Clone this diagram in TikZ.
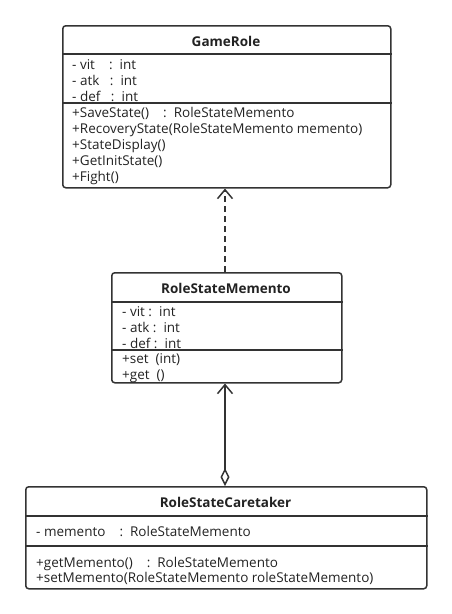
\documentclass[tikz,border=0pt]{standalone}
\usepackage{fontspec}
\setmainfont{Open Sans}
\usetikzlibrary{arrows.meta}

\definecolor{umlline}{HTML}{333333}
\definecolor{umltext}{HTML}{222222}

\begin{document}
\begin{tikzpicture}[x=1pt,y=-1pt]
    \tikzset{
        classframe/.style={draw=umlline,line width=1.5pt,rounded corners=3pt,anchor=north west,inner sep=0pt},
        divider/.style={draw=umlline,line width=1.5pt},
        classtitle/.style={font=\fontsize{13.5}{15}\selectfont\bfseries,text=umltext,anchor=base,inner sep=0pt},
        member/.style={font=\fontsize{13.5}{15}\selectfont,text=umltext,anchor=base west,inner sep=0pt},
        dependency/.style={draw=umlline,line width=1.5pt,dash pattern=on 6pt off 4pt,-{Straight Barb[length=9pt,width=15pt]}},
        aggregation/.style={draw=umlline,line width=1.5pt,{Diamond[open,length=18pt,width=9pt]}-{Straight Barb[length=9pt,width=15pt]}}
    }
    \useasboundingbox (0,0) rectangle (451,614);

    % GameRole
    \node[classframe,minimum width=328pt,minimum height=162pt] (role) at (62,25) {};
    \draw[divider] (role.west |- 0,54) -- (role.east |- 0,54);
    \draw[divider] (role.west |- 0,103) -- (role.east |- 0,103);
    \node[classtitle] (role-title) at (226,46) {GameRole};
    \foreach \txt [count=\i] in {{- vit~~~~:~~int},{- atk~~~:~~int},{- def~~~:~~int}}
        \node[member] (role-a\i) at (72,{53+16*\i}) {\txt};
    \foreach \txt [count=\i] in {{+SaveState()~~~~:~~RoleStateMemento},{+RecoveryState(RoleStateMemento memento)},
            {+StateDisplay()},{+GetInitState()},{+Fight()}}
        \node[member] (role-m\i) at (72,{101+16*\i}) {\txt};

    % RoleStateMemento
    \node[classframe,minimum width=230pt,minimum height=110pt] (memento) at (111,272) {};
    \draw[divider] (memento.west |- 0,302) -- (memento.east |- 0,302);
    \draw[divider] (memento.west |- 0,350) -- (memento.east |- 0,350);
    \node[classtitle] (memento-title) at (226,293) {RoleStateMemento};
    \foreach \txt [count=\i] in {{- vit~:~~int},{- atk~:~~int},{- def~:~~int}}
        \node[member] (memento-a\i) at (122,{300+16*\i}) {\txt};
    \foreach \txt [count=\i] in {{+set~~(int)},{+get~~()}}
        \node[member] (memento-m\i) at (122,{348+15.5*\i}) {\txt};

    % RoleStateCaretaker
    \node[classframe,minimum width=401pt,minimum height=102pt] (caretaker) at (25,486) {};
    \draw[divider] (caretaker.west |- 0,516) -- (caretaker.east |- 0,516);
    \draw[divider] (caretaker.west |- 0,546) -- (caretaker.east |- 0,546);
    \node[classtitle] (caretaker-title) at (225.5,507) {RoleStateCaretaker};
    \node[member] (caretaker-a1) at (36,536) {- memento~~~~:~~RoleStateMemento};
    \node[member] (caretaker-m1) at (36,567) {+getMemento()~~~~:~~RoleStateMemento};
    \node[member] (caretaker-m2) at (36,582) {+setMemento(RoleStateMemento roleStateMemento)};

    % relations
    \draw[dependency] (memento.north -| 225,0) -- (role.south -| 225,0);
    \draw[aggregation] (caretaker.north -| 225,0) -- (memento.south -| 225,0);
\end{tikzpicture}
\end{document}
